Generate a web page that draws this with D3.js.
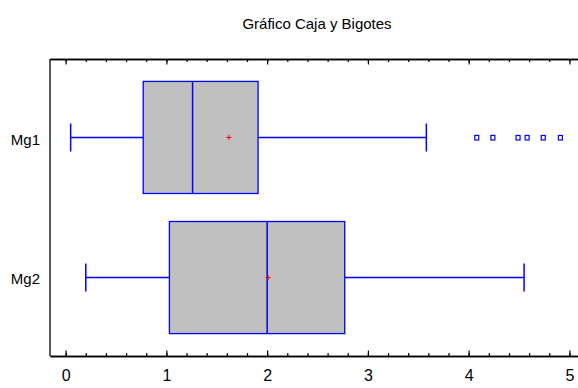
<!DOCTYPE html>
<html>
<head>
<meta charset="utf-8">
<script src="https://cdn.jsdelivr.net/npm/d3@7"></script>
<style>
  body { margin: 0; background: #fff; }
  svg { display: block; }
  text { font-family: "Liberation Sans", Arial, sans-serif; fill: #000; }
</style>
</head>
<body>
<svg width="578" height="388"></svg>
<script>
// box and whisker chart, two groups

var categories = ["Mg1", "Mg2"];
var whiskerLow = [0.05, 0.20];
var q1 = [0.77, 1.03];
var median = [1.26, 2.00];
var q3 = [1.91, 2.77];
var whiskerHigh = [3.58, 4.55];
var means = [1.62, 2.01];
var outliersMg1 = [4.08, 4.24, 4.49, 4.58, 4.74, 4.91];
var xTicks = [0, 1, 2, 3, 4, 5];
var title = "Gráfico Caja y Bigotes";

var plotLeft = 50, plotRight = 578, plotTop = 59, plotBottom = 356;

var svg = d3.select("svg");

var x = d3.scaleLinear()
    .domain([-0.155, 5.085])
    .range([plotLeft, plotRight]);

var y = d3.scalePoint()
    .domain(categories)
    .range([plotTop, plotBottom])
    .padding(0.56);

var step = y.step();
var boxHalf = step * 0.4;
var capHalf = step * 0.1;

// title
svg.append("text")
    .attr("x", 317)
    .attr("y", 29)
    .attr("text-anchor", "middle")
    .style("font-size", "15px")
    .text(title);

// minor ticks
var minor = d3.range(0, 5.01, 0.2).map(function(d) { return +d.toFixed(1); });

svg.append("g")
    .attr("transform", "translate(0," + plotBottom + ")")
    .call(d3.axisBottom(x).tickValues(minor).tickSize(-3).tickSizeOuter(0).tickFormat(""));
svg.append("g")
    .attr("transform", "translate(0," + plotTop + ")")
    .call(d3.axisTop(x).tickValues(minor).tickSize(-3).tickSizeOuter(0).tickFormat(""));

// major ticks
var xAxis = svg.append("g")
    .attr("transform", "translate(0," + plotBottom + ")")
    .call(d3.axisBottom(x).tickValues(xTicks).tickSize(-5.5).tickSizeOuter(0).tickPadding(13.5).tickFormat(d3.format("d")));
xAxis.selectAll("text").style("font-size", "16px");
svg.append("g")
    .attr("transform", "translate(0," + plotTop + ")")
    .call(d3.axisTop(x).tickValues(xTicks).tickSize(-5.5).tickSizeOuter(0).tickFormat(""));

svg.selectAll(".domain").attr("stroke", "#000").attr("stroke-width", 1.3);
svg.selectAll(".tick line").attr("stroke", "#000").attr("stroke-width", 1.2);

// left spine
svg.append("line")
    .attr("x1", plotLeft).attr("x2", plotLeft)
    .attr("y1", plotTop).attr("y2", plotBottom)
    .attr("stroke", "#000")
    .attr("stroke-width", 1.3);

// category labels
svg.selectAll(".cat")
    .data(categories)
    .enter()
    .append("text")
    .attr("class", "cat")
    .attr("x", 40)
    .attr("y", function(d, i) { return y(d) + (i === 0 ? 8 : 6); })
    .attr("text-anchor", "end")
    .style("font-size", "15px")
    .text(function(d) { return d; });

var groups = svg.selectAll(".box")
    .data(categories)
    .enter()
    .append("g")
    .attr("class", "box");

// whiskers
groups.append("line")
    .attr("x1", function(d, i) { return x(whiskerLow[i]); })
    .attr("x2", function(d, i) { return x(q1[i]); })
    .attr("y1", function(d) { return y(d); })
    .attr("y2", function(d) { return y(d); })
    .attr("stroke", "blue").attr("stroke-width", 1.5);
groups.append("line")
    .attr("x1", function(d, i) { return x(q3[i]); })
    .attr("x2", function(d, i) { return x(whiskerHigh[i]); })
    .attr("y1", function(d) { return y(d); })
    .attr("y2", function(d) { return y(d); })
    .attr("stroke", "blue").attr("stroke-width", 1.5);
groups.append("line")
    .attr("x1", function(d, i) { return x(whiskerLow[i]); })
    .attr("x2", function(d, i) { return x(whiskerLow[i]); })
    .attr("y1", function(d) { return y(d) - capHalf; })
    .attr("y2", function(d) { return y(d) + capHalf; })
    .attr("stroke", "blue").attr("stroke-width", 1.5);
groups.append("line")
    .attr("x1", function(d, i) { return x(whiskerHigh[i]); })
    .attr("x2", function(d, i) { return x(whiskerHigh[i]); })
    .attr("y1", function(d) { return y(d) - capHalf; })
    .attr("y2", function(d) { return y(d) + capHalf; })
    .attr("stroke", "blue").attr("stroke-width", 1.5);

// boxes
groups.append("rect")
    .attr("x", function(d, i) { return x(q1[i]); })
    .attr("width", function(d, i) { return x(q3[i]) - x(q1[i]); })
    .attr("y", function(d) { return y(d) - boxHalf; })
    .attr("height", boxHalf * 2)
    .attr("fill", "#c0c0c0")
    .attr("stroke", "blue")
    .attr("stroke-width", 1.3);

// medians
groups.append("line")
    .attr("x1", function(d, i) { return x(median[i]); })
    .attr("x2", function(d, i) { return x(median[i]); })
    .attr("y1", function(d) { return y(d) - boxHalf; })
    .attr("y2", function(d) { return y(d) + boxHalf; })
    .attr("stroke", "blue").attr("stroke-width", 1.5);

// means (red plus)
groups.append("path")
    .attr("d", function(d, i) {
        var cx = x(means[i]), cy = y(d);
        return "M" + (cx - 2.5) + "," + cy + "H" + (cx + 2.5) + "M" + cx + "," + (cy - 2.5) + "V" + (cy + 2.5);
    })
    .attr("stroke", "red").attr("stroke-width", 1);

// outliers
svg.selectAll(".outlier")
    .data(outliersMg1)
    .enter()
    .append("rect")
    .attr("class", "outlier")
    .attr("x", function(d) { return x(d) - 2; })
    .attr("y", y("Mg1") - 2)
    .attr("width", 4)
    .attr("height", 4.5)
    .attr("fill", "#fff")
    .attr("stroke", "blue")
    .attr("stroke-width", 1.2);
</script>
</body>
</html>
